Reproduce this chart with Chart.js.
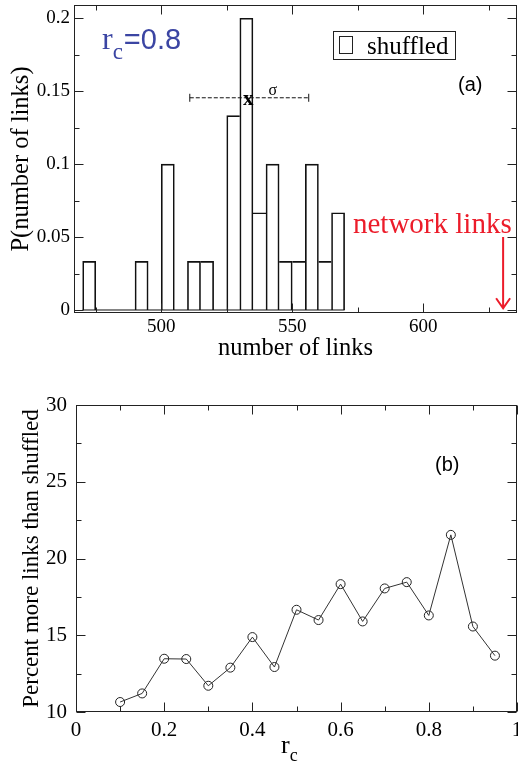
<!DOCTYPE html>
<html>
<head>
<meta charset="utf-8">
<script src="https://cdn.jsdelivr.net/npm/chart.js@4.4.1/dist/chart.umd.min.js"></script>
<style>
  body { margin: 0; background: #fff; }
  #page { position: relative; width: 518px; height: 770px; overflow: hidden; background: #fff; }
  #histChart { position: absolute; left: 0; top: 0; }
  #rcChart { position: absolute; left: 0; top: 380px; }
</style>
</head>
<body>
<div id="page">
  <canvas id="histChart" width="518" height="365"></canvas>
  <canvas id="rcChart" width="518" height="390"></canvas>
</div>
<script>
// (a) histogram of link counts in shuffled networks, r_c = 0.8
const binStarts = [470, 475, 480, 485, 490, 495, 500, 505, 510, 515, 520, 525, 530, 535, 540, 545, 550, 555, 560, 565];
const binWidth = 5;
const binProb = [0.0333, 0, 0, 0, 0.0333, 0, 0.1, 0, 0.0333, 0.0333, 0, 0.1333, 0.2, 0.0667, 0.1, 0.0333, 0.0333, 0.1, 0.0333, 0.0667];
const histXTicks = [500, 550, 600];
const histXMinor = [475, 525, 575, 625];
const histYTicks = [0, 0.05, 0.1, 0.15, 0.2];
const histYMinor = [0.025, 0.075, 0.125, 0.175];
const shuffledMean = 533.6;
const shuffledSigma = 22.7;
const sigmaBarY = 0.1455;
const networkLinks = 630.5;

// (b) percent more links than shuffled vs r_c
const rcValues = [0.1, 0.15, 0.2, 0.25, 0.3, 0.35, 0.4, 0.45, 0.5, 0.55, 0.6, 0.65, 0.7, 0.75, 0.8, 0.85, 0.9, 0.95];
const percentMore = [10.65, 11.21, 13.47, 13.45, 11.71, 12.89, 14.88, 12.93, 16.66, 15.99, 18.33, 15.9, 18.05, 18.46, 16.29, 21.54, 15.57, 13.67];
const rcXTicks = [0, 0.2, 0.4, 0.6, 0.8, 1];
const rcXMinor = [0.1, 0.3, 0.5, 0.7, 0.9];
const rcYTicks = [10, 15, 20, 25, 30];
const rcYMinor = [12.5, 17.5, 22.5, 27.5];

const SERIF = "'Liberation Serif', 'Times New Roman', serif";
const SANS = "'Liberation Sans', Arial, sans-serif";

// box around the plot + inward ticks on all four sides
const frameTicks = {
  id: 'frameTicks',
  afterDatasetsDraw(chart, args, opts) {
    const { ctx, chartArea: a, scales: { x, y } } = chart;
    const l = Math.round(a.left) + 0.5, r = Math.round(a.right) - 0.5;
    const t = Math.round(a.top) + 0.5, b = Math.round(a.bottom) - 0.5;
    ctx.save();
    ctx.strokeStyle = '#222';
    ctx.lineWidth = 1;
    ctx.strokeRect(l, t, r - l, b - t);
    ctx.beginPath();
    const xt = (vals, len) => vals.forEach(v => {
      const px = Math.round(x.getPixelForValue(v)) + 0.5;
      ctx.moveTo(px, b); ctx.lineTo(px, b - len);
      ctx.moveTo(px, t); ctx.lineTo(px, t + len);
    });
    const yt = (vals, len) => vals.forEach(v => {
      const py = Math.round(y.getPixelForValue(v)) + 0.5;
      ctx.moveTo(l, py); ctx.lineTo(l + len, py);
      ctx.moveTo(r, py); ctx.lineTo(r - len, py);
    });
    xt(opts.xMajor, 9); xt(opts.xMinor, 5);
    yt(opts.yMajor, 9); yt(opts.yMinor, 5);
    ctx.stroke();
    ctx.restore();
  }
};

function subText(ctx, x, y, main, sub, mainFont, subFont, drop) {
  ctx.font = mainFont;
  ctx.fillText(main, x, y);
  const w = ctx.measureText(main).width;
  ctx.font = subFont;
  ctx.fillText(sub, x + w, y + drop);
  return x + w + ctx.measureText(sub).width;
}

const histNotes = {
  id: 'histNotes',
  afterDraw(chart) {
    const { ctx, scales: { x, y } } = chart;
    ctx.save();
    ctx.textBaseline = 'alphabetic';
    ctx.textAlign = 'left';

    // r_c=0.8
    ctx.fillStyle = '#3b45a3';
    const end = subText(ctx, 102, 49, 'r', 'c', '32px ' + SERIF, '23px ' + SERIF, 10);
    ctx.font = '29px ' + SANS;
    ctx.fillText('=0.8', end + 1, 49);

    // legend
    ctx.strokeStyle = '#222';
    ctx.lineWidth = 1;
    ctx.strokeRect(333.5, 31.5, 122, 28);
    ctx.strokeRect(339.5, 36.5, 13, 17);
    ctx.fillStyle = '#000';
    ctx.font = '25px ' + SERIF;
    ctx.fillText('shuffled', 367, 54);

    ctx.font = '20px ' + SANS;
    ctx.fillText('(a)', 458, 91);

    // mean marker and sigma
    const mx = x.getPixelForValue(shuffledMean);
    const my = y.getPixelForValue(sigmaBarY);
    ctx.textAlign = 'center';
    ctx.font = 'bold 21px ' + SERIF;
    ctx.fillText('x', mx - 1, my + 7);
    ctx.font = '16px ' + SERIF;
    ctx.fillText('σ', x.getPixelForValue(shuffledMean + 9), my - 3);

    // network links arrow
    const ax = x.getPixelForValue(networkLinks);
    const ay0 = y.getPixelForValue(0.05);
    const ay1 = y.getPixelForValue(0.0012);
    ctx.strokeStyle = '#ec1c2a';
    ctx.fillStyle = '#ec1c2a';
    ctx.lineWidth = 2;
    ctx.beginPath();
    ctx.moveTo(ax, ay0); ctx.lineTo(ax, ay1);
    ctx.moveTo(ax - 7, ay1 - 10); ctx.lineTo(ax, ay1); ctx.lineTo(ax + 7, ay1 - 10);
    ctx.stroke();
    ctx.textAlign = 'left';
    ctx.font = '29px ' + SERIF;
    ctx.fillText('network links', 353, 233);
    ctx.restore();
  }
};

const rcNotes = {
  id: 'rcNotes',
  afterDraw(chart) {
    const { ctx } = chart;
    ctx.save();
    ctx.fillStyle = '#000';
    ctx.textBaseline = 'alphabetic';
    ctx.font = '20px ' + SANS;
    ctx.fillText('(b)', 435, 91);
    subText(ctx, 281, 373, 'r', 'c', '26px ' + SERIF, '18px ' + SERIF, 8);
    ctx.restore();
  }
};

const tickFont = size => ({ family: SERIF, size });

// shared bar edges drawn once, by the taller bar
const barEdges = c => {
  const i = c.dataIndex;
  const h = binProb[i], hp = binProb[i - 1] || 0, hn = binProb[i + 1] || 0;
  return { top: 1, bottom: 0, left: h > hp ? 1 : 0, right: h >= hn ? 1 : 0 };
};

new Chart(document.getElementById('histChart'), {
  type: 'bar',
  data: {
    datasets: [
      {
        label: 'shuffled',
        data: binStarts.map((s, i) => ({ x: s + binWidth / 2, y: binProb[i] })),
        backgroundColor: 'rgba(255,255,255,0)',
        borderColor: '#111',
        borderWidth: barEdges,
        borderSkipped: false,
        barPercentage: 1,
        categoryPercentage: 1
      },
      {
        type: 'line',
        data: [{ x: binStarts[0], y: 0 }, { x: binStarts[binStarts.length - 1] + binWidth, y: 0 }],
        borderColor: '#111',
        borderWidth: 1,
        pointRadius: 0
      },
      {
        type: 'line',
        data: [{ x: shuffledMean - shuffledSigma, y: sigmaBarY }, { x: shuffledMean + shuffledSigma, y: sigmaBarY }],
        borderColor: '#111',
        borderWidth: 1,
        borderDash: [4, 2],
        pointStyle: 'line',
        rotation: 90,
        pointRadius: 4,
        pointBorderWidth: 1,
        pointBorderColor: '#111'
      }
    ]
  },
  options: {
    responsive: false,
    animation: false,
    events: [],
    layout: { autoPadding: false, padding: { top: 5, right: 1, left: 0, bottom: 0 } },
    plugins: {
      legend: { display: false },
      tooltip: { enabled: false },
      frameTicks: { xMajor: histXTicks, xMinor: histXMinor, yMajor: histYTicks, yMinor: histYMinor }
    },
    scales: {
      x: {
        type: 'linear',
        min: 466.7,
        max: 635.8,
        offset: false,
        grid: { display: false, drawTicks: false },
        border: { display: false },
        afterBuildTicks: s => { s.ticks = histXTicks.map(v => ({ value: v })); },
        ticks: { font: tickFont(19), color: '#000', padding: 3, maxRotation: 0 },
        title: { display: true, text: 'number of links', font: tickFont(24.5), color: '#000', padding: { top: 0, bottom: 2 } },
        afterFit: s => { s.height = 52; s.paddingLeft = 0; s.paddingRight = 0; }
      },
      y: {
        min: -0.00206,
        max: 0.2091,
        grid: { display: false, drawTicks: false },
        border: { display: false },
        afterBuildTicks: s => { s.ticks = histYTicks.map(v => ({ value: v })); },
        ticks: { font: tickFont(19), color: '#000', padding: 4, callback: v => String(+v.toFixed(3)) },
        title: { display: true, text: 'P(number of links)', font: tickFont(24.5), color: '#000', padding: { top: 7, bottom: 0 } },
        afterFit: s => { s.width = 74; s.paddingTop = 0; s.paddingBottom = 0; }
      }
    }
  },
  plugins: [frameTicks, histNotes]
});

new Chart(document.getElementById('rcChart'), {
  type: 'line',
  data: {
    datasets: [{
      label: 'percent more links',
      data: rcValues.map((v, i) => ({ x: v, y: percentMore[i] })),
      borderColor: '#333',
      borderWidth: 1,
      pointStyle: 'circle',
      pointRadius: 4.5,
      pointBorderWidth: 1,
      pointBorderColor: '#222',
      pointBackgroundColor: 'rgba(255,255,255,0)',
      tension: 0
    }]
  },
  options: {
    responsive: false,
    animation: false,
    events: [],
    layout: { autoPadding: false, padding: { top: 25, right: 1, left: 0, bottom: 0 } },
    plugins: {
      legend: { display: false },
      tooltip: { enabled: false },
      frameTicks: { xMajor: rcXTicks, xMinor: rcXMinor, yMajor: rcYTicks, yMinor: rcYMinor }
    },
    scales: {
      x: {
        type: 'linear',
        min: 0,
        max: 1,
        grid: { display: false, drawTicks: false },
        border: { display: false },
        afterBuildTicks: s => { s.ticks = rcXTicks.map(v => ({ value: v })); },
        ticks: { font: tickFont(21), color: '#000', padding: 6, maxRotation: 0, autoSkip: false, callback: v => String(v) },
        afterFit: s => { s.height = 58; s.paddingLeft = 0; s.paddingRight = 0; }
      },
      y: {
        min: 10,
        max: 30,
        grid: { display: false, drawTicks: false },
        border: { display: false },
        afterBuildTicks: s => { s.ticks = rcYTicks.map(v => ({ value: v })); },
        ticks: { font: tickFont(21), color: '#000', padding: 9 },
        title: { display: true, text: 'Percent more links than shuffled', font: tickFont(23), color: '#000', padding: { top: 18, bottom: 0 } },
        afterFit: s => { s.width = 76; s.paddingTop = 0; s.paddingBottom = 0; }
      }
    }
  },
  plugins: [frameTicks, rcNotes]
});
</script>
</body>
</html>
